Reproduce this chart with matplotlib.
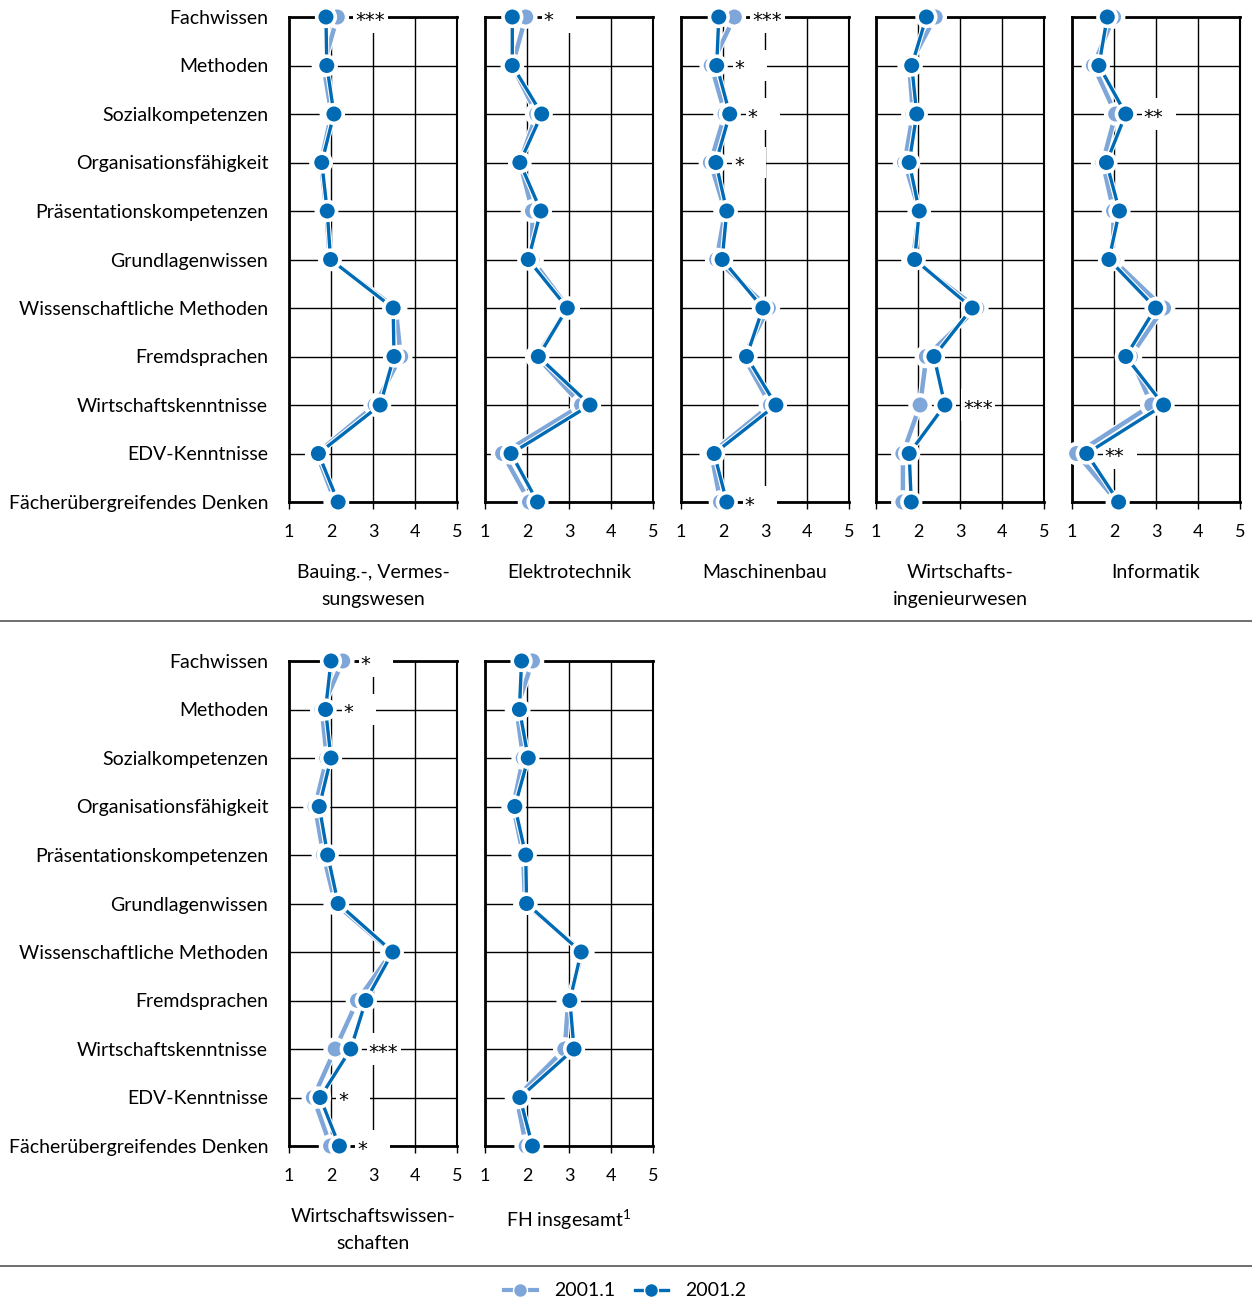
import numpy as np
import matplotlib
matplotlib.use("Agg")
import matplotlib.pyplot as plt
import matplotlib.patheffects as pe
from matplotlib.patches import Rectangle
from matplotlib.lines import Line2D

plt.rcParams['font.family'] = ['Lato', 'DejaVu Sans']
plt.rcParams['mathtext.default'] = 'regular'

categories = ["Fachwissen", "Methoden", "Sozialkompetenzen", "Organisationsfähigkeit",
              "Präsentationskompetenzen", "Grundlagenwissen", "Wissenschaftliche Methoden",
              "Fremdsprachen", "Wirtschaftskenntnisse", "EDV-Kenntnisse",
              "Fächerübergreifendes Denken"]

titles = ["Bauing.-, Vermes-\nsungswesen", "Elektrotechnik", "Maschinenbau",
          "Wirtschafts-\ningenieurwesen", "Informatik", "Wirtschaftswissen-\nschaften",
          "FH insgesamt$^{1}$"]

# 2001.1 (light) and 2001.2 (dark) per subject
bau_1 = [2.15, 1.82, 2.01, 1.76, 1.89, 1.97, 3.54, 3.66, 3.05, 1.66, 2.10]
bau_2 = [1.88, 1.90, 2.07, 1.78, 1.91, 1.99, 3.48, 3.50, 3.17, 1.70, 2.17]
et_1 = [1.97, 1.65, 2.23, 1.83, 2.13, 2.12, 2.98, 2.23, 3.30, 1.42, 2.06]
et_2 = [1.65, 1.65, 2.35, 1.83, 2.33, 2.03, 2.96, 2.27, 3.50, 1.62, 2.25]
mb_1 = [2.27, 1.72, 2.05, 1.70, 2.05, 1.85, 3.08, 2.49, 3.13, 1.72, 1.94]
mb_2 = [1.90, 1.85, 2.16, 1.83, 2.09, 1.98, 2.95, 2.56, 3.26, 1.79, 2.09]
wi_1 = [2.41, 1.79, 1.88, 1.68, 2.03, 1.88, 3.40, 2.20, 2.05, 1.64, 1.64]
wi_2 = [2.20, 1.85, 1.97, 1.79, 2.03, 1.92, 3.29, 2.38, 2.64, 1.79, 1.84]
inf_1 = [1.99, 1.51, 2.04, 1.73, 1.99, 1.97, 3.18, 2.39, 2.90, 1.11, 2.08]
inf_2 = [1.84, 1.64, 2.28, 1.82, 2.13, 1.88, 2.99, 2.28, 3.18, 1.35, 2.11]
ww_1 = [2.28, 1.78, 1.90, 1.62, 1.82, 2.10, 3.45, 2.63, 2.10, 1.58, 1.99]
ww_2 = [2.00, 1.87, 2.00, 1.72, 1.92, 2.17, 3.47, 2.83, 2.47, 1.74, 2.20]
fh_1 = [2.13, 1.75, 1.91, 1.67, 1.91, 1.95, 3.33, 2.98, 2.90, 1.75, 1.98]
fh_2 = [1.87, 1.82, 2.03, 1.71, 1.97, 1.99, 3.29, 3.02, 3.12, 1.83, 2.13]

# significance marks: (category index, stars)
bau_sig = [(0, "***")]
et_sig = [(0, "*")]
mb_sig = [(0, "***"), (1, "*"), (2, "*"), (3, "*"), (10, "*")]
wi_sig = [(8, "***")]
inf_sig = [(2, "**"), (9, "**")]
ww_sig = [(0, "*"), (1, "*"), (8, "***"), (9, "*"), (10, "*")]
fh_sig = []

series_1 = [bau_1, et_1, mb_1, wi_1, inf_1, ww_1, fh_1]
series_2 = [bau_2, et_2, mb_2, wi_2, inf_2, ww_2, fh_2]
sigs = [bau_sig, et_sig, mb_sig, wi_sig, inf_sig, ww_sig, fh_sig]

light = '#7FA6D8'
dark = '#006BB4'

W, H = 1252, 1303
fig = plt.figure(figsize=(W / 100, H / 100), dpi=100)

lefts = [289, 485, 681, 876, 1072, 289, 485]
tops = [17] * 5 + [661] * 2
aw, ah = 168, 485
y = np.arange(len(categories))

for i in range(7):
    ax = fig.add_axes([lefts[i] / W, 1 - (tops[i] + ah) / H, aw / W, ah / H])
    ax.set_xlim(1, 5)
    ax.set_ylim(len(categories) - 1, 0)
    ax.set_xticks([1, 2, 3, 4, 5])
    ax.set_yticks(y)
    ax.grid(True, color='black', lw=1)
    ax.set_axisbelow(True)
    for s in ['left', 'top', 'bottom']:
        ax.spines[s].set_linewidth(2)
    ax.spines['right'].set_linewidth(1.5)
    ax.tick_params(axis='x', length=5, width=1, pad=10.5, labelsize=13)
    ax.tick_params(axis='y', length=0, pad=15, labelsize=14)
    if lefts[i] == 289:
        ax.set_yticklabels(categories)
    else:
        ax.set_yticklabels([])

    ax.plot(series_1[i], y, color=light, lw=3.2, marker='o', ms=12, mfc=light,
            mec='white', mew=1.2, clip_on=False, zorder=3,
            path_effects=[pe.Stroke(linewidth=5, foreground='white'), pe.Normal()])
    ax.plot(series_2[i], y, color=dark, lw=2.4, marker='o', ms=12, mfc=dark,
            mec='white', mew=1.2, clip_on=False, zorder=4,
            path_effects=[pe.Stroke(linewidth=4, foreground='white'), pe.Normal()])

    for idx, stars in sigs[i]:
        x0 = max(series_1[i][idx], series_2[i][idx]) + 0.38
        ax.add_patch(Rectangle((x0, idx - 0.32), 0.82, 0.64, fc='white', ec='none',
                               zorder=2.6, clip_on=False))
        ax.text(x0 + 0.05, idx + 0.07, stars, ha='left', va='center', fontsize=14,
                family='DejaVu Sans', zorder=5)

    cx = (lefts[i] + aw / 2) / W
    fig.text(cx, 1 - (tops[i] + ah + 62) / H, titles[i], ha='center', va='top',
             fontsize=14, linespacing=1.7)

for yy in [621, 1266]:
    fig.add_artist(Line2D([0, 1], [1 - yy / H] * 2, transform=fig.transFigure,
                          color='#555555', lw=1.2))

handles = [Line2D([], [], color=light, lw=3, marker='o', ms=10, mec='white', mew=1),
           Line2D([], [], color=dark, lw=2.4, marker='o', ms=10, mec='white', mew=1)]
fig.legend(handles, ["2001.1", "2001.2"], ncol=2, loc='center',
           bbox_to_anchor=(625 / W, 1 - 1291 / H), frameon=False, fontsize=14,
           handlelength=1.7, columnspacing=1.0, handletextpad=0.9)

fig.savefig("out.png", dpi=100)
